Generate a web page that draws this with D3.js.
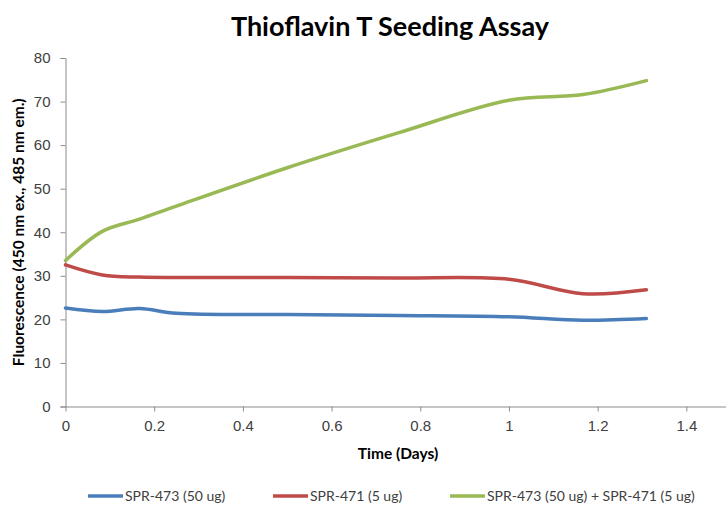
<!DOCTYPE html>
<html lang="en">
    <head>
        <meta charset="utf-8">
        <title>Thioflavin T Seeding Assay</title>
        <script type="text/javascript" src="https://cdn.jsdelivr.net/npm/d3@7"></script>
        <style type="text/css">
            body { margin: 0; background: #fff; }
            svg { display: block; font-family: Lato, "Open Sans", sans-serif; }
            .tick text { fill: #404040; font-size: 15px; }
            .domain, .tick line { stroke: #8c8c8c; }
        </style>
    </head>
    <body>
        <script type="text/javascript">

            //Data
            var days = [0, 0.083, 0.167, 0.25, 0.5, 0.75, 1.0, 1.167, 1.31];
            var spr473 = [22.6, 21.8, 22.5, 21.4, 21.1, 20.9, 20.6, 19.8, 20.2];
            var spr471 = [32.5, 30.2, 29.7, 29.6, 29.6, 29.5, 29.2, 25.9, 26.8];
            var combo = [33.5, 40.2, 43.0, 46.0, 54.8, 62.8, 70.3, 71.6, 74.8];
            var seriesNames = ["SPR-473 (50 ug)", "SPR-471 (5 ug)", "SPR-473 (50 ug) + SPR-471 (5 ug)"];
            var colors = ["#4a7ebb", "#be4b48", "#98b954"];
            var xTicks = [0, 0.2, 0.4, 0.6, 0.8, 1, 1.2, 1.4];
            var yTicks = [0, 10, 20, 30, 40, 50, 60, 70, 80];

            var w = 726;
            var h = 508;

            var svg = d3.select("body")
                        .append("svg")
                        .attr("width", w)
                        .attr("height", h);

            //Plot area runs past the right edge, like the cropped original
            var x = d3.scaleLinear().domain([0, 1.6]).range([65.5, 775]);
            var y = d3.scaleLinear().domain([0, 80]).range([406.5, 58]);

            //Title
            svg.append("text")
               .attr("x", 390)
               .attr("y", 36)
               .attr("text-anchor", "middle")
               .style("font-size", "27px")
               .style("font-weight", "bold")
               .text("Thioflavin T Seeding Assay");

            //Axes
            var yAxis = svg.append("g")
                .attr("transform", "translate(" + x(0) + ",0)")
                .call(d3.axisLeft(y).tickValues(yTicks).tickSize(5).tickPadding(8).tickFormat(d3.format("d")));
            yAxis.selectAll(".tick text").attr("dx", "-2");

            var xAxis = svg.append("g")
                .attr("transform", "translate(0," + y(0) + ")")
                .call(d3.axisBottom(x).tickValues(xTicks).tickSize(5).tickPadding(9).tickFormat(function(d) { return d; }));
            xAxis.select(".domain").attr("d", "M" + x(0) + ",0.5H" + w);

            //Axis titles
            svg.append("text")
               .attr("transform", "translate(24," + ((y(0) + y(80)) / 2) + ") rotate(-90)")
               .attr("text-anchor", "middle")
               .style("font-size", "15.5px")
               .style("font-weight", "bold")
               .text("Fluorescence (450 nm ex., 485 nm em.)");

            svg.append("text")
               .attr("x", 398)
               .attr("y", 459)
               .attr("text-anchor", "middle")
               .style("font-size", "15.5px")
               .style("font-weight", "bold")
               .text("Time (Days)");

            //Lines
            var series = [spr473, spr471, combo];
            var line = d3.line()
                .x(function(d, i) { return x(days[i]); })
                .y(function(d) { return y(d); })
                .curve(d3.curveCatmullRom.alpha(0.5));

            svg.selectAll("path.series")
               .data(series)
               .enter()
               .append("path")
               .attr("class", "series")
               .attr("d", line)
               .attr("fill", "none")
               .attr("stroke", function(d, i) { return colors[i]; })
               .attr("stroke-width", 3.5)
               .attr("stroke-linecap", "round");

            //Legend
            var legendX = [88, 273, 450];
            var legend = svg.selectAll("g.legend")
                .data(seriesNames)
                .enter()
                .append("g")
                .attr("class", "legend")
                .attr("transform", function(d, i) { return "translate(" + legendX[i] + ",496)"; });

            legend.append("line")
                  .attr("x1", 0).attr("x2", 35)
                  .attr("y1", 0).attr("y2", 0)
                  .attr("stroke", function(d, i) { return colors[i]; })
                  .attr("stroke-width", 3.5);

            legend.append("text")
                  .attr("x", 37)
                  .attr("y", 5)
                  .style("font-size", "14px")
                  .style("fill", "#404040")
                  .text(function(d) { return d; });

        </script>
    </body>
</html>
